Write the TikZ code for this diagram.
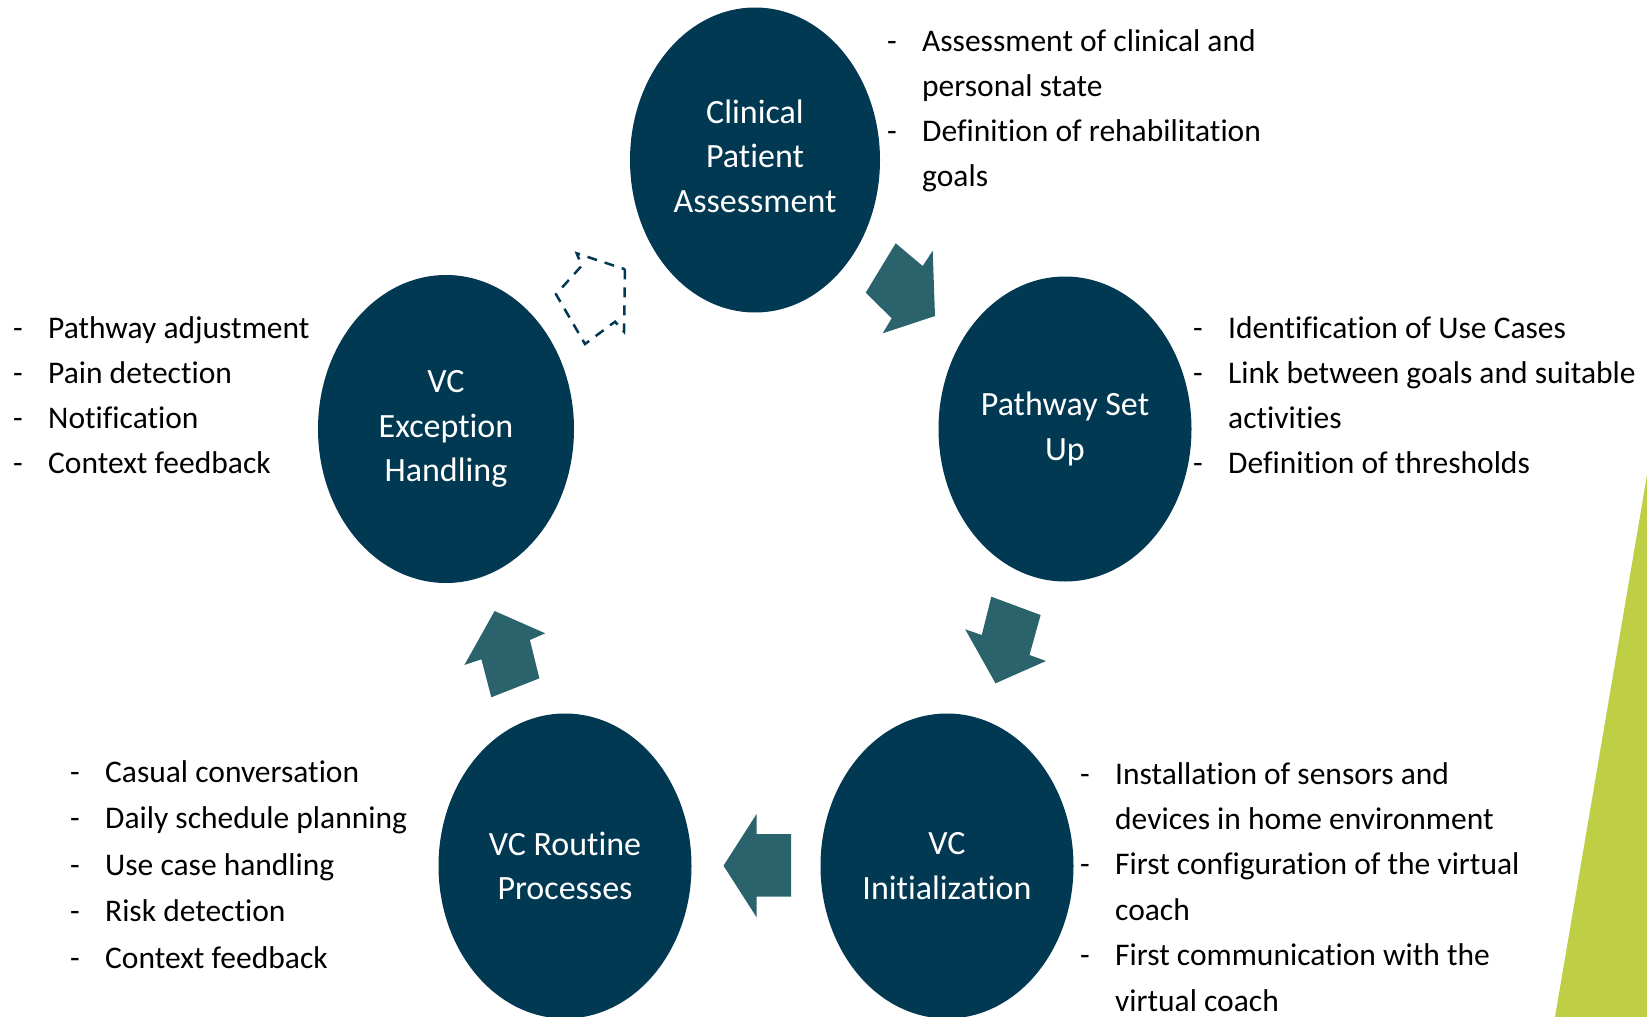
\documentclass[tikz,border=0pt]{standalone}
\usepackage{fontspec}
\setmainfont{Carlito}[Ligatures=NoCommon]
\usetikzlibrary{shapes.geometric}
\definecolor{navy}{RGB}{2,57,82}
\definecolor{tealarrow}{RGB}{42,99,107}
\definecolor{limegreen}{RGB}{191,207,69}
\begin{document}
\begin{tikzpicture}[x=1pt,y=-1pt,
  stage/.style={ellipse, fill=navy, text=white, inner sep=0pt,
    minimum width=253pt, minimum height=305pt, align=center,
    font=\fontsize{34}{44.5}\selectfont},
  blockarrow/.style={fill=tealarrow},
  dasharrow/.style={draw=navy, line width=2.5pt, dash pattern=on 10pt off 8pt},
  bullets/.style={anchor=base west, inner sep=0pt, text=black}
]
\useasboundingbox (0,0) rectangle (1647,1017);
\fill[limegreen] (1647,475) -- (1555,1017) -- (1647,1017) -- cycle;

% stages
\node[stage, minimum width=250pt] (cpa) at (755,160) {};
\node[text=white, align=center, font=\fontsize{34}{44.5}\selectfont, inner sep=0pt] (cpat) at (755,156) {Clinical\\Patient\\Assessment};
\node[stage] (psu) at (1065,429) {Pathway Set\\Up};
\node[stage, minimum width=256pt, minimum height=308pt] (veh) at (446,429) {VC\\Exception\\Handling};
\node[stage] (vrp) at (565,866) {VC Routine\\Processes};
\node[stage] (vci) at (947,866) {VC\\Initialization};

% block arrows
\fill[blockarrow] (895.7,243.3) -- (922.7,266) -- (932.7,250.7) -- (935,316) -- (882.7,333.3) -- (891.7,318.3) -- (865.7,292.7) -- cycle;
\fill[blockarrow] (991.3,596.7) -- (1040.6,615) -- (1029.5,655) -- (1046,661) -- (995.5,683.3) -- (965.2,629.3) -- (981.8,635) -- cycle;
\fill[blockarrow] (723.5,865.7) -- (756.6,814) -- (756.6,834) -- (791,834) -- (791,896.7) -- (756.6,896.7) -- (756.6,917.3) -- cycle;
\fill[blockarrow] (494.6,611) -- (545.2,633.3) -- (529.9,640) -- (539.4,678.3) -- (491.3,697.3) -- (481.4,659.3) -- (464.4,665) -- cycle;
\draw[dasharrow] (625,269.3) -- (624,331.7) -- (615,321.7) -- (585,344) -- (556,294.3) -- (581.7,265.7) -- (576.7,253.3) -- cycle;

% bullet lists
\node[bullets, font=\fontsize{31.5}{45}\selectfont] (lcpa) at (887,51) {\begin{tabular}[t]{@{}p{35pt}@{}l@{}}
- & Assessment of clinical and\\
 & personal state\\
- & Definition of rehabilitation\\
 & goals
\end{tabular}};
\node[bullets, font=\fontsize{31.5}{45}\selectfont] (lpsu) at (1193,338) {\begin{tabular}[t]{@{}p{35pt}@{}l@{}}
- & Identification of Use Cases\\
- & Link between goals and suitable\\
 & activities\\
- & Definition of thresholds
\end{tabular}};
\node[bullets, font=\fontsize{31.5}{45}\selectfont] (lveh) at (13,338) {\begin{tabular}[t]{@{}p{35pt}@{}l@{}}
- & Pathway adjustment\\
- & Pain detection\\
- & Notification\\
- & Context feedback
\end{tabular}};
\node[bullets, font=\fontsize{31.5}{46.5}\selectfont] (lvrp) at (70,782) {\begin{tabular}[t]{@{}p{35pt}@{}l@{}}
- & Casual conversation\\
- & Daily schedule planning\\
- & Use case handling\\
- & Risk detection\\
- & Context feedback
\end{tabular}};
\node[bullets, font=\fontsize{31.5}{45.4}\selectfont] (lvci) at (1080,784) {\begin{tabular}[t]{@{}p{35pt}@{}l@{}}
- & Installation of sensors and\\
 & devices in home environment\\
- & First configuration of the virtual\\
 & coach\\
- & First communication with the\\
 & virtual coach
\end{tabular}};
\end{tikzpicture}
\end{document}
